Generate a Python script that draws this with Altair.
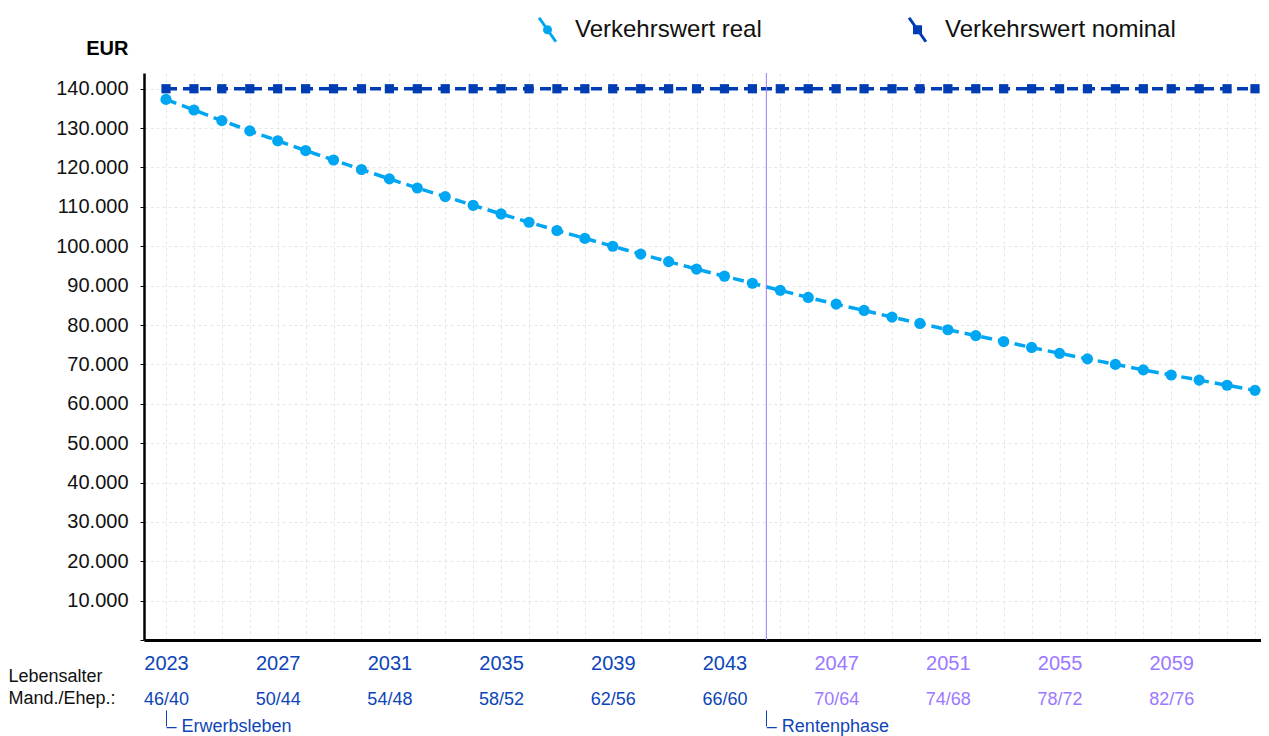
import altair as alt
import pandas as pd

# ---------------- data ----------------
YEARS = [2023, 2024, 2025, 2026, 2027, 2028, 2029, 2030, 2031, 2032,
         2033, 2034, 2035, 2036, 2037, 2038, 2039, 2040, 2041, 2042,
         2043, 2044, 2045, 2046, 2047, 2048, 2049, 2050, 2051, 2052,
         2053, 2054, 2055, 2056, 2057, 2058, 2059, 2060, 2061, 2062]
REAL = [137300, 134600, 131900, 129300, 126800, 124300, 121900, 119500, 117100, 114800,
        112600, 110400, 108200, 106100, 104000, 102000, 100000, 98000, 96100, 94200,
        92400, 90600, 88800, 87000, 85300, 83700, 82000, 80400, 78800, 77300,
        75800, 74300, 72800, 71400, 70000, 68600, 67300, 66000, 64700, 63400]
NOMINAL = [140000, 140000, 140000, 140000, 140000, 140000, 140000, 140000, 140000, 140000,
           140000, 140000, 140000, 140000, 140000, 140000, 140000, 140000, 140000, 140000,
           140000, 140000, 140000, 140000, 140000, 140000, 140000, 140000, 140000, 140000,
           140000, 140000, 140000, 140000, 140000, 140000, 140000, 140000, 140000, 140000]
SERIES = ["Verkehrswert real", "Verkehrswert nominal"]

LABEL_YEARS = [2023, 2027, 2031, 2035, 2039, 2043, 2047, 2051, 2055, 2059]
AGE_LABELS = ["46/40", "50/44", "54/48", "58/52", "62/56", "66/60", "70/64", "74/68", "78/72", "82/76"]
Y_TICKS = [0, 10000, 20000, 30000, 40000, 50000, 60000, 70000, 80000, 90000,
           100000, 110000, 120000, 130000, 140000]
Y_LABELS = ["", "10.000", "20.000", "30.000", "40.000", "50.000", "60.000", "70.000",
            "80.000", "90.000", "100.000", "110.000", "120.000", "130.000", "140.000"]
PHASE_X = [2023, 2044.5]
PHASE_LABELS = ["\u2013 Erwerbsleben", "\u2013 Rentenphase"]
RETIREMENT_START = [2044.5]

# ---------------- styles ----------------
FONT = "Arial, Liberation Sans, sans-serif"
C_REAL = "#00a6f2"
C_NOM = "#003cb2"
C_BLUE_TXT = "#0d45b8"
C_PURPLE = "#9b78ff"
GRID = "#e6e6e6"

df = pd.DataFrame({
    "year": YEARS * 2,
    "value": REAL + NOMINAL,
    "series": [SERIES[0]] * len(YEARS) + [SERIES[1]] * len(YEARS),
})
df_phase = pd.DataFrame({"x": PHASE_X, "label": PHASE_LABELS})
df_rule = pd.DataFrame({"x": RETIREMENT_START})

x_scale = alt.Scale(domain=[2022.212, 2062.215], nice=False, zero=False)
y_scale = alt.Scale(domain=[0, 144000], nice=False, zero=True)

label_color = {"condition": {"test": "datum.value < 2045", "value": C_BLUE_TXT}, "value": C_PURPLE}


def arr(vals):
    return "[" + ",".join(f"'{v}'" if isinstance(v, str) else str(v) for v in vals) + "]"


year_expr = f"indexof({arr(LABEL_YEARS)}, datum.value) >= 0 ? toString(datum.value) : ''"
age_expr = f"{arr(AGE_LABELS)}[indexof({arr(LABEL_YEARS)}, datum.value)]"
phase_expr = f"{arr(PHASE_LABELS)}[indexof({arr(PHASE_X)}, datum.value)]"
y_expr = f"{arr(Y_LABELS)}[indexof({arr(Y_TICKS)}, datum.value)]"

x_year_axis = alt.Axis(
    orient="bottom", values=YEARS, labelExpr=year_expr, grid=True, gridColor=GRID,
    gridDash=[3, 3], gridWidth=1, ticks=False, domain=True, domainColor="#000000",
    domainWidth=3, labelFontSize=20, labelFont=FONT, labelColor=label_color,
    labelPadding=13, labelOverlap=False, labelFlush=False, title=None,
)
x_age_axis = alt.Axis(
    orient="bottom", values=LABEL_YEARS, labelExpr=age_expr, grid=False, ticks=False,
    domain=False, offset=40, labelPadding=10.5, labelFontSize=18, labelFont=FONT,
    labelColor=label_color, labelOverlap=False, labelFlush=False,
    title=["Lebensalter", "Mand./Ehep.:"], titleFont=FONT, titleFontSize=18,
    titleFontWeight="normal", titleColor="#111111", titleAngle=0, titleAlign="left",
    titleBaseline="alphabetic", titleX=-136, titleY=1, titleLineHeight=22,
)
x_phase_axis = alt.Axis(
    orient="bottom", values=PHASE_X, labelExpr=phase_expr, grid=False,
    ticks=True, tickSize=16, tickWidth=1, tickColor=label_color,
    domain=False, offset=70, labelPadding=-8.5, labelFontSize=18, labelFont=FONT,
    labelColor=label_color, labelAlign="left", labelOffset=0, labelOverlap=False,
    labelFlush=False, title=None,
)
y_axis = alt.Axis(
    orient="left", values=Y_TICKS, labelExpr=y_expr, labelFontSize=20, labelFont=FONT,
    labelColor="#111111", grid=True, ticks=True, domain=True,
    tickSize=4, tickColor="#000000", domainColor="#000000", domainWidth=2.5,
    gridColor=GRID, gridDash=[3, 3], labelPadding=12,
    title="EUR", titleAngle=0, titleFontSize=20, titleFont=FONT, titleFontWeight="bold",
    titleColor="#000000", titleX=-16, titleY=-25, titleAlign="right", titleBaseline="middle",
)

base = alt.Chart(df)
Y_ENC = alt.Y("value:Q", scale=y_scale, axis=y_axis)

line_real = base.transform_filter(alt.datum.series == SERIES[0]).mark_line(
    color=C_REAL, strokeWidth=3.5, strokeDash=[11, 6]
).encode(
    x=alt.X("year:Q", scale=x_scale, axis=x_year_axis),
    y=Y_ENC,
)
pts_real = base.transform_filter(alt.datum.series == SERIES[0]).mark_point(
    shape="circle", filled=True, size=125, color=C_REAL, opacity=1
).encode(
    x=alt.X("year:Q", scale=x_scale, axis=None),
    y=Y_ENC,
)
line_nom = base.transform_filter(alt.datum.series == SERIES[1]).mark_line(
    color=C_NOM, strokeWidth=3.5, strokeDash=[11, 6]
).encode(
    x=alt.X("year:Q", scale=x_scale, axis=None),
    y=Y_ENC,
)
pts_nom = base.transform_filter(alt.datum.series == SERIES[1]).mark_point(
    shape="square", filled=True, size=85, color=C_NOM, opacity=1
).encode(
    x=alt.X("year:Q", scale=x_scale, axis=None),
    y=Y_ENC,
)

sym_real = "M-0.7,-1L0.7,1M0.25,0A0.25,0.25,0,1,1,-0.25,0A0.25,0.25,0,1,1,0.25,0Z"
sym_nom = "M-0.7,-1L0.7,1M-0.25,-0.25L0.25,-0.25L0.25,0.25L-0.25,0.25Z"
legend = alt.Legend(
    orient="none", legendX=390, legendY=-57, direction="horizontal", title=None,
    labelFontSize=24, labelFont=FONT, labelColor="#111111", labelLimit=0, symbolSize=576,
    symbolStrokeWidth=3, labelOffset=14, columnPadding=141, padding=0, gridAlign="each",
    symbolOpacity=1,
)
legend_layer = base.transform_filter("false").mark_point(filled=True, opacity=1, strokeWidth=3).encode(
    x=alt.X("year:Q", scale=x_scale, axis=None),
    y=Y_ENC,
    fill=alt.Fill("series:N", scale=alt.Scale(domain=SERIES, range=[C_REAL, C_NOM]), legend=legend),
    stroke=alt.Stroke("series:N", scale=alt.Scale(domain=SERIES, range=[C_REAL, C_NOM]), legend=legend),
    shape=alt.Shape("series:N", scale=alt.Scale(domain=SERIES, range=[sym_real, sym_nom]), legend=legend),
)

phase_layer = alt.Chart(df_phase).mark_point(opacity=0).encode(
    x=alt.X("x:Q", scale=x_scale, axis=x_phase_axis),
    y=alt.value(0),
)
rule = alt.Chart(df_rule).mark_rule(color=C_PURPLE, strokeWidth=1).encode(
    x=alt.X("x:Q", scale=x_scale, axis=x_age_axis),
)

chart = alt.layer(
    line_real, line_nom, pts_real, pts_nom, legend_layer, phase_layer, rule
).resolve_scale(x="shared", y="shared").resolve_axis(x="independent", y="shared").properties(
    width=1117, height=567,
    padding={"left": 136, "top": 65, "right": 0, "bottom": 96},
    autosize=alt.AutoSizeParams(type="none"),
    background="white",
).configure_view(stroke=None)

chart.save("out.html", embed_options={"renderer": "svg", "actions": False})
